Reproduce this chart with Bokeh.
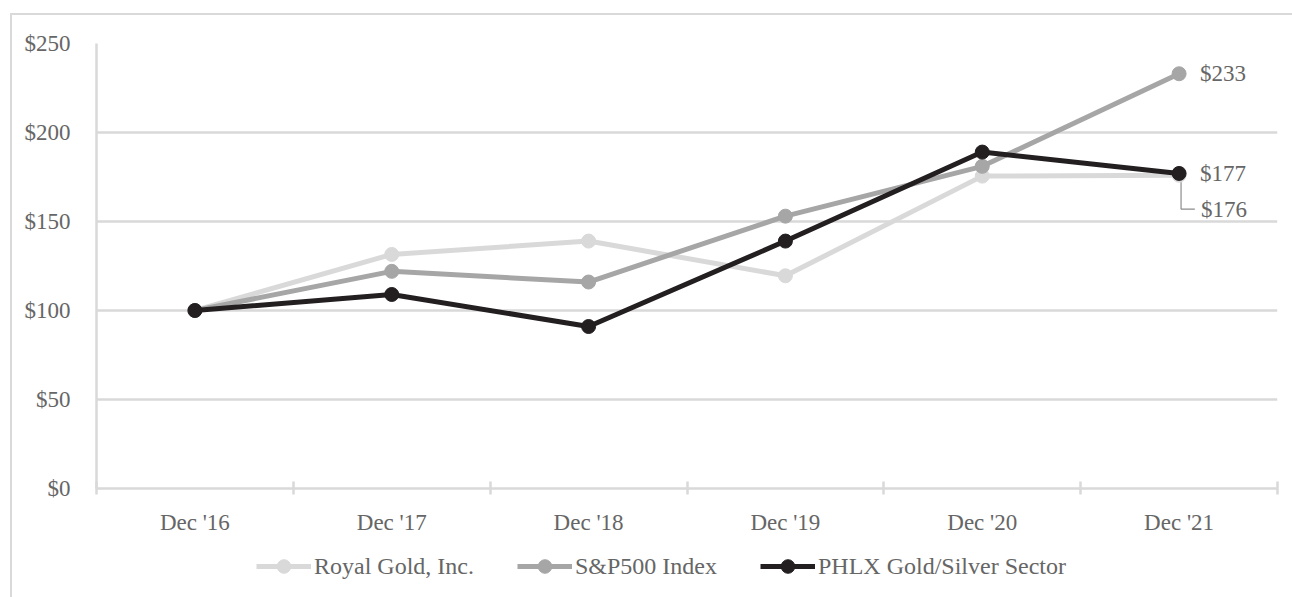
from bokeh.plotting import figure
from bokeh.layouts import column
from bokeh.models import (FixedTicker, Legend, LegendItem, Range1d,
                          NumeralTickFormatter)
from bokeh.core.properties import value
from bokeh.embed import file_html
from bokeh.resources import INLINE

# Cumulative total return of a $100 investment
years = ["Dec '16", "Dec '17", "Dec '18", "Dec '19", "Dec '20", "Dec '21"]
royal_gold = [100, 131.5, 139, 119.5, 175.5, 176]
sp500 = [100, 122, 116, 153, 181, 233]
phlx = [100, 109, 91, 139, 189, 177]
y_ticks = [0, 50, 100, 150, 200, 250]

FONT = "Liberation Serif"
TEXT = "#666666"
GRID = "#d9d9d9"
C_ROYAL = "#d9d9d9"
C_SP = "#a6a6a6"
C_PHLX = "#231f20"
FS = "23px"

W = 1280
xs = [i + 0.5 for i in range(len(years))]

p = figure(width=W, height=522, output_backend="svg", toolbar_location=None,
           x_range=Range1d(0, len(years)), y_range=Range1d(0, 250),
           min_border_left=84, min_border_right=15, min_border_top=28,
           min_border_bottom=0)
p.outline_line_color = None
p.background_fill_color = "white"
p.border_fill_color = "white"

# x axis: labels at the middle of each period, ticks at the boundaries
p.xaxis.ticker = FixedTicker(ticks=xs, minor_ticks=list(range(len(years) + 1)))
p.xaxis.major_label_overrides = {x: y for x, y in zip(xs, years)}
p.xaxis.major_tick_line_color = None
p.xaxis.major_tick_out = 0
p.xaxis.major_tick_in = 0
p.xaxis.minor_tick_line_color = GRID
p.xaxis.minor_tick_line_width = 2.5
p.xaxis.minor_tick_in = 7
p.xaxis.minor_tick_out = 6
p.xaxis.axis_line_color = GRID
p.xaxis.axis_line_width = 2.5
p.xaxis.major_label_standoff = 15
p.xgrid.visible = False

p.yaxis.ticker = FixedTicker(ticks=y_ticks)
p.yaxis.formatter = NumeralTickFormatter(format="$0")
p.yaxis.major_tick_line_color = None
p.yaxis.minor_tick_line_color = None
p.yaxis.axis_line_color = GRID
p.yaxis.axis_line_width = 2.5
p.yaxis.major_label_standoff = 20
p.ygrid.grid_line_color = GRID
p.ygrid.grid_line_width = 2.5

for ax in (p.xaxis[0], p.yaxis[0]):
    ax.major_label_text_font = FONT
    ax.major_label_text_font_size = FS
    ax.major_label_text_color = TEXT

series = [("Royal Gold, Inc.", royal_gold, C_ROYAL),
          ("S&P500 Index", sp500, C_SP),
          ("PHLX Gold/Silver Sector", phlx, C_PHLX)]
for name, vals, col in series:
    p.line(xs, vals, line_color=col, line_width=5)
    p.scatter(xs, vals, size=14, fill_color=col, line_color=col)

# end-of-period value labels
last_x = xs[-1]
p.text([last_x, last_x], [sp500[-1], phlx[-1]],
       text=[f"${sp500[-1]:.0f}", f"${phlx[-1]:.0f}"],
       x_offset=21, text_baseline="middle", text_font=value(FONT),
       text_font_size=FS, text_color=TEXT)

# leader line for the Royal Gold value, which sits under the PHLX marker
drop = 19
p.line([last_x + 0.01, last_x + 0.01, last_x + 0.08],
       [royal_gold[-1], royal_gold[-1] - drop, royal_gold[-1] - drop],
       line_color="#8c8c8c", line_width=1.2, level="underlay")
p.text([last_x], [royal_gold[-1] - drop], text=[f"${royal_gold[-1]:.0f}"],
       x_offset=22, text_baseline="middle", text_font=value(FONT),
       text_font_size=FS, text_color=TEXT)

# legend strip underneath the chart; its renderers hold the first point of
# each series, which lies outside this strip's range
leg = figure(width=W, height=60, output_backend="svg", toolbar_location=None,
             x_range=Range1d(0, 1), y_range=Range1d(0, 1),
             x_axis_location=None, y_axis_location=None, min_border=0)
leg.outline_line_color = None
leg.grid.visible = False
items = []
for name, vals, col in series:
    ln = leg.line(xs[:1], vals[:1], line_color=col, line_width=5)
    sc = leg.scatter(xs[:1], vals[:1], size=14, fill_color=col, line_color=col)
    items.append(LegendItem(label=name, renderers=[ln, sc]))

legend = Legend(items=items, orientation="horizontal", location=(160, 14),
                label_text_font=FONT, label_text_font_size="24px",
                label_text_color=TEXT, glyph_width=55, glyph_height=34,
                label_standoff=3, spacing=43, padding=0, margin=0,
                border_line_color=None, background_fill_alpha=0)
leg.add_layout(legend, "center")

page = column(p, leg, spacing=0,
              styles={"margin-left": "10px", "margin-top": "13px",
                      "border-left": f"2px solid {GRID}",
                      "border-top": f"2px solid {GRID}"})

open("out.html", "w").write(file_html(page, INLINE))
